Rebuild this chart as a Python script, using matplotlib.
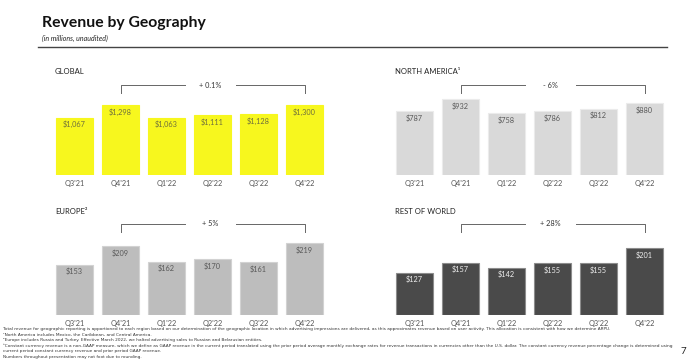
import matplotlib.pyplot as plt
from matplotlib.transforms import blended_transform_factory

quarters = ["Q3'21", "Q4'21", "Q1'22", "Q2'22", "Q3'22", "Q4'22"]

global_rev = [1067, 1298, 1063, 1111, 1128, 1300]
north_america_rev = [787, 932, 758, 786, 812, 880]
europe_rev = [153, 209, 162, 170, 161, 219]
rest_of_world_rev = [127, 157, 142, 155, 155, 201]

panel_titles = ["GLOBAL", "NORTH AMERICA\u00b9", "EUROPE\u00b2", "REST OF WORLD"]
yoy_labels = ["+ 0.1%", "- 6%", "+ 5%", "+ 28%"]

footnotes = [
    "Total revenue for geographic reporting is apportioned to each region based on our determination of the geographic location in which advertising impressions are delivered, as this approximates revenue based on user activity. This allocation is consistent with how we determine ARPU.",
    "\u00b9North America includes Mexico, the Caribbean, and Central America.",
    "\u00b2Europe includes Russia and Turkey. Effective March 2022, we halted advertising sales to Russian and Belarusian entities.",
    "\u00b3Constant currency revenue is a non-GAAP measure, which we define as GAAP revenue in the current period translated using the prior period average monthly exchange rates for revenue transactions in currencies other than the U.S. dollar. The constant currency revenue percentage change is determined using",
    "current period constant currency revenue and prior period GAAP revenue.",
    "Numbers throughout presentation may not foot due to rounding.",
]

W, H = 700, 361
fig = plt.figure(figsize=(7.0, 3.61), dpi=100)
plt.rcParams['font.family'] = ['Lato', 'DejaVu Sans']

# header
fig.text(42 / W, 1 - 23 / H, "Revenue by Geography", fontsize=11.3, fontweight='bold',
         color='#111111', va='center')
fig.text(42 / W, 1 - 38 / H, "(in millions, unaudited)", fontsize=5, style='italic',
         color='#222222', va='center')
fig.add_artist(plt.Line2D([38 / W, 667 / W], [1 - 46.5 / H, 1 - 46.5 / H],
                          color='#444444', lw=1.0))

panels = [
    (global_rev, 51.5, 175, 90, 1671, '#F7F71E', '#F7F71E', '#6E6E3C'),
    (north_america_rev, 391.5, 175, 90, 1104, '#D9D9D9', '#EBEBEB', '#595959'),
    (europe_rev, 51.5, 315, 91, 277, '#BDBDBD', '#D2D2D2', '#595959'),
    (rest_of_world_rev, 391.5, 315, 91, 273, '#4A4A4A', '#8C8C8C', '#EEEEEE'),
]

for i, (vals, left, bottom, height, ytop, color, edge, tcolor) in enumerate(panels):
    ax = fig.add_axes([left / W, 1 - bottom / H, 276 / W, height / H])
    x = range(len(quarters))
    ax.bar(x, vals, width=0.8, color=color, edgecolor=edge, linewidth=0.8)
    ax.set_xlim(-0.5, len(quarters) - 0.5)
    ax.set_ylim(0, ytop)
    ax.set_xticks(list(x))
    ax.set_xticklabels(quarters, fontsize=5.3, color='#555555')
    ax.tick_params(axis='x', length=0, pad=3.5)
    ax.set_yticks([])
    for s in ax.spines.values():
        s.set_visible(False)
    for xi, v in zip(x, vals):
        ax.annotate(f"${v:,}", (xi, v), xytext=(0, -5), textcoords='offset points',
                    ha='center', va='center', fontsize=5.3, color=tcolor)

    # bracket from Q4'21 to Q4'22
    tr = blended_transform_factory(ax.transData, ax.transAxes)
    tick = 8 / height
    ax.plot([1, 1, 2.4], [1 - tick, 1, 1], color='#666666', lw=0.7, transform=tr, clip_on=False)
    ax.plot([3.5, 5, 5], [1, 1, 1 - tick], color='#666666', lw=0.7, transform=tr, clip_on=False)
    ax.text(2.95, 1, yoy_labels[i], transform=tr, ha='center', va='center',
            fontsize=5.3, color='#333333')

    # panel title
    fig.text((left + 3.5) / W, 1 - (bottom - height - 13) / H, panel_titles[i],
             fontsize=5.5, color='#222222', va='center')

# footnotes
for k, line in enumerate(footnotes):
    fig.text(3 / W, 1 - (329 + 5.6 * k) / H, line, fontsize=3.08, color='#333333',
             va='center', family=['Liberation Sans Narrow', 'DejaVu Sans'])

fig.text(683 / W, 1 - 352 / H, "7", fontsize=7, color='#222222', ha='center', va='center')

fig.savefig("out.png", dpi=100)
